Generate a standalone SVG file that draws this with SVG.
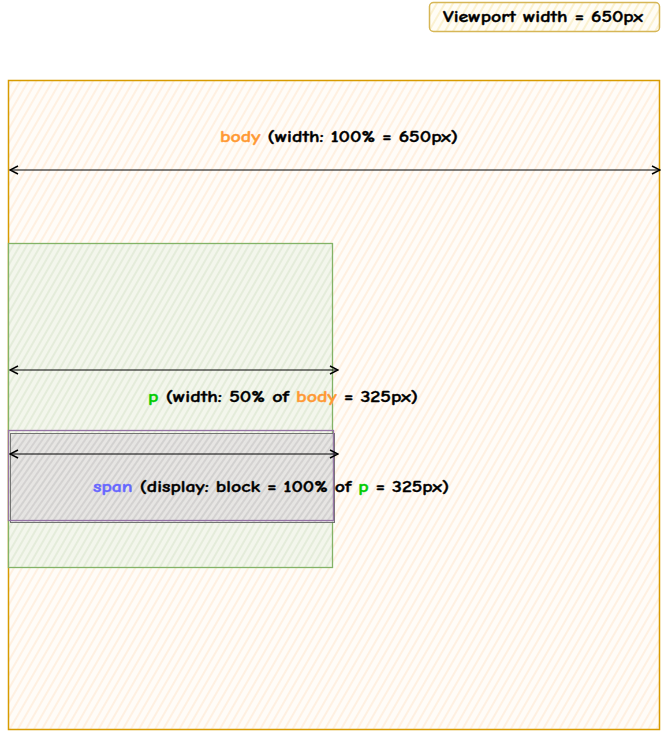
<svg xmlns="http://www.w3.org/2000/svg" width="671" height="731" viewBox="0 0 671 731">
<style>
text{font-family:"Comic Neue","Liberation Sans","DejaVu Sans",sans-serif;font-weight:900;font-size:15px;fill:#000;stroke:#000;stroke-width:0.35}
tspan.o{fill:#ff9933;stroke:#ff9933}
tspan.g{fill:#00cc00;stroke:#00cc00}
tspan.b{fill:#6666ff;stroke:#6666ff}
.conn{stroke:#000;stroke-width:1.2;fill:none;marker-start:url(#ah);marker-end:url(#ah)}
</style>
<defs>
<pattern id="hBody" patternUnits="userSpaceOnUse" width="7" height="7" patternTransform="rotate(30)">
<rect width="7" height="7" fill="#fffcf8"/>
<line x1="2" y1="0" x2="2" y2="7" stroke="#ffeedb" stroke-width="1.6"/>
</pattern>
<pattern id="hVp" patternUnits="userSpaceOnUse" width="7" height="7" patternTransform="rotate(30)">
<rect width="7" height="7" fill="#fffdf5"/>
<line x1="2" y1="0" x2="2" y2="7" stroke="#fbf0cc" stroke-width="1.8"/>
</pattern>
<pattern id="hP" patternUnits="userSpaceOnUse" width="6" height="6" patternTransform="rotate(30)">
<rect width="6" height="6" fill="#f3f6ec"/>
<line x1="2" y1="0" x2="2" y2="6" stroke="#e3ebd8" stroke-width="1.8"/>
</pattern>
<pattern id="hSpan" patternUnits="userSpaceOnUse" width="5" height="5" patternTransform="rotate(35)">
<rect width="5" height="5" fill="#e6e4e3"/>
<line x1="2" y1="0" x2="2" y2="5" stroke="#bdbbbb" stroke-width="1"/>
</pattern>
<marker id="ah" viewBox="0 0 10 10" refX="9" refY="5" markerWidth="10" markerHeight="10" markerUnits="userSpaceOnUse" orient="auto-start-reverse">
<polyline points="1,1 9,5 1,9" fill="none" stroke="#000" stroke-width="1.5"/>
</marker>
</defs>

<g id="viewport-label">
<rect x="429.5" y="2.5" width="230" height="29" rx="4" fill="url(#hVp)" stroke="#d6b656" stroke-width="1.5"/>
<text x="443" y="22" textLength="200" lengthAdjust="spacingAndGlyphs">Viewport width = 650px</text>
</g>

<g id="body">
<rect x="8.5" y="80.5" width="651" height="649" fill="url(#hBody)" stroke="#d79b00" stroke-width="1.5"/>
<text x="220" y="142" textLength="238" lengthAdjust="spacingAndGlyphs"><tspan class="o">body</tspan> (width: 100% = 650px)</text>
</g>

<g id="p">
<rect x="8.5" y="243.5" width="324" height="324" fill="url(#hP)" stroke="#82b366" stroke-width="1.3"/>
<text x="148" y="402" textLength="270" lengthAdjust="spacingAndGlyphs"><tspan class="g">p</tspan> (width: 50% of <tspan class="o">body</tspan> = 325px)</text>
</g>

<g id="span">
<rect x="10.5" y="433.5" width="324" height="89" fill="url(#hSpan)" stroke="#666" stroke-width="1" opacity="0.9"/>
<rect x="8.5" y="430.5" width="325" height="90" fill="none" stroke="#9673a6" stroke-width="1.3"/>
<text x="93" y="492" textLength="356" lengthAdjust="spacingAndGlyphs"><tspan class="b">span</tspan> (display: block = 100% of <tspan class="g">p</tspan> = 325px)</text>
</g>

<g id="connectors">
<line class="conn" x1="10" y1="170" x2="660" y2="170"/>
<line class="conn" x1="10" y1="370" x2="338" y2="370"/>
<line class="conn" x1="10" y1="454" x2="338" y2="454"/>
</g>
</svg>
